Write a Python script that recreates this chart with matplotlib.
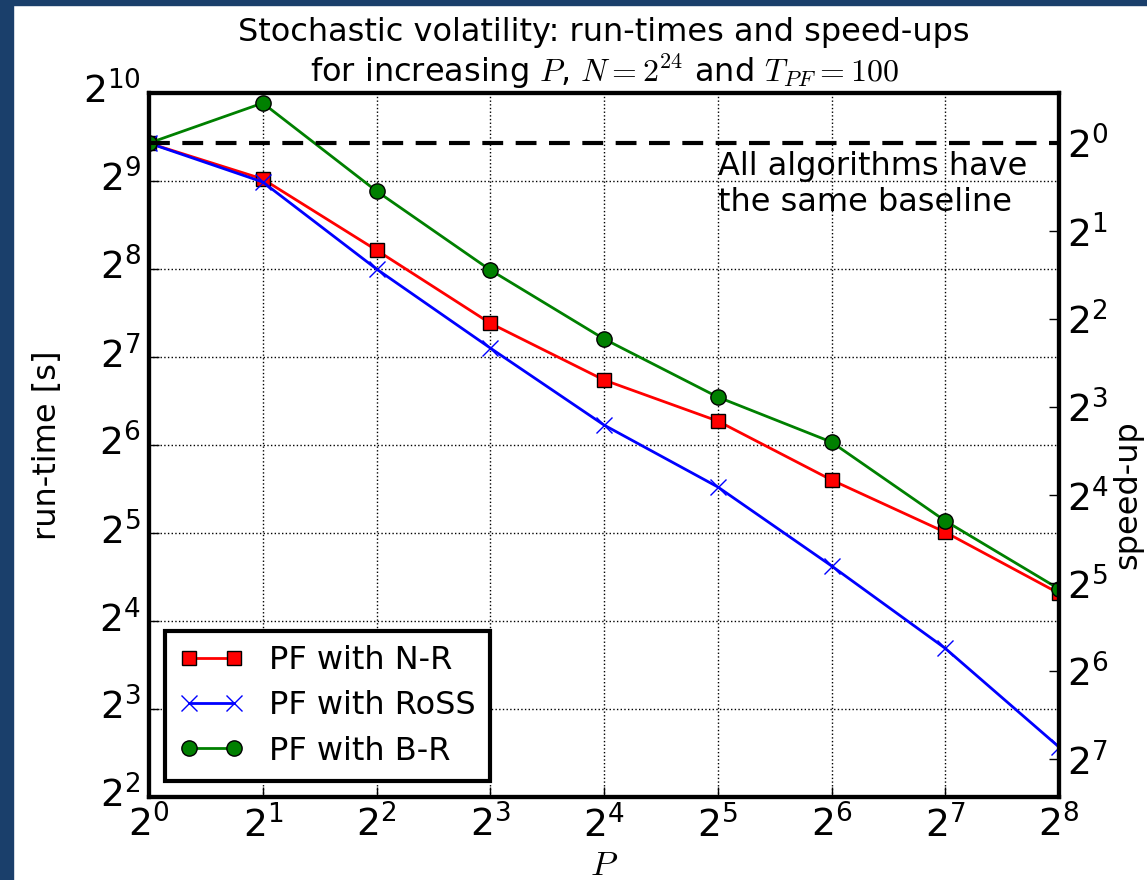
import numpy as np
import matplotlib
matplotlib.use("Agg")
import matplotlib.pyplot as plt
from matplotlib.patches import Rectangle
from matplotlib.transforms import ScaledTranslation

plt.rcParams['mathtext.fontset'] = 'cm'
plt.rcParams['font.family'] = 'DejaVu Sans'

# number of processors P and run-times in seconds
P = [1, 2, 4, 8, 16, 32, 64, 128, 256]
runtime_nr = [690, 520, 297, 167, 106.8, 77.3, 48.6, 32.2, 19.9]
runtime_ross = [690, 508, 256, 137.4, 74.9, 46.0, 24.7, 12.9, 5.93]
runtime_br = [690, 946, 473, 254, 147.6, 93.4, 65.5, 35.2, 20.6]
baseline = 690

fs = 23
tfs = 27
fig = plt.figure(figsize=(11.47, 8.8), dpi=100)
fig.patches.append(Rectangle((0, 0), 13 / 1147, 1, transform=fig.transFigure,
                             color='#1a3f6b', zorder=-1))
fig.patches.append(Rectangle((0, 1 - 5 / 880), 1, 5 / 880, transform=fig.transFigure,
                             color='#1a3f6b', zorder=-1))

ax = fig.add_axes([149 / 1147, 1 - 797 / 880, 910 / 1147, 704 / 880])
ax.plot(P, runtime_nr, color='red', lw=2, marker='s', ms=10, mec='black',
        mew=1, label='PF with N-R')
ax.plot(P, runtime_ross, color='blue', lw=2, marker='x', ms=12, mew=1,
        label='PF with RoSS')
ax.plot(P, runtime_br, color='green', lw=2, marker='o', ms=11, mec='black',
        mew=1, label='PF with B-R')
ax.axhline(baseline, color='black', ls='--', lw=3, dashes=(5, 3))

ax.set_xscale('log', base=2)
ax.set_yscale('log', base=2)
ax.set_xlim(1, 256)
ax.set_ylim(4, 1024)
ax.set_xticks(P)
ax.set_yticks([2 ** k for k in range(2, 11)])
ax.minorticks_off()
ax.grid(True, color='black', ls=':', lw=1)
ax.tick_params(direction='in', length=7, width=1, labelsize=tfs, pad=6)
for s in ax.spines.values():
    s.set_linewidth(3)
# left labels sit a little above their ticks, as in the original
shift = ScaledTranslation(0, 5 / 100, fig.dpi_scale_trans)
for lbl in ax.get_yticklabels():
    lbl.set_transform(lbl.get_transform() + shift)

ax.set_xlabel('$P$', fontsize=fs + 2, labelpad=2)
ax.set_ylabel('run-time [s]', fontsize=fs, labelpad=14)
ax.set_title('Stochastic volatility: run-times and speed-ups\n'
             'for increasing $P$, $N = 2^{24}$ and $T_{PF} = 100$',
             fontsize=23, pad=8, linespacing=1.15)

ax.text(0.625, 0.917, 'All algorithms have\nthe same baseline', transform=ax.transAxes,
        fontsize=fs, va='top', ha='left', linespacing=1.2)

leg = ax.legend(loc='lower left', fontsize=fs, numpoints=2, fancybox=False,
                framealpha=1, edgecolor='black', borderaxespad=0.5,
                handlelength=2, borderpad=0.45, labelspacing=0.45)
leg.get_frame().set_linewidth(3)

ax2 = ax.twinx()
ax2.set_yscale('log', base=2)
ax2.set_ylim(baseline / 4, baseline / 1024)
ax2.set_yticks([2 ** k for k in range(0, 8)])
ax2.minorticks_off()
ax2.tick_params(direction='in', length=7, width=1, labelsize=tfs, pad=6)
ax2.set_ylabel('speed-up', fontsize=fs, rotation=90, va='center', ha='center')
ax2.yaxis.set_label_coords(1.076, 0.43)
for s in ax2.spines.values():
    s.set_linewidth(3)

fig.savefig('out.png', dpi=100)
